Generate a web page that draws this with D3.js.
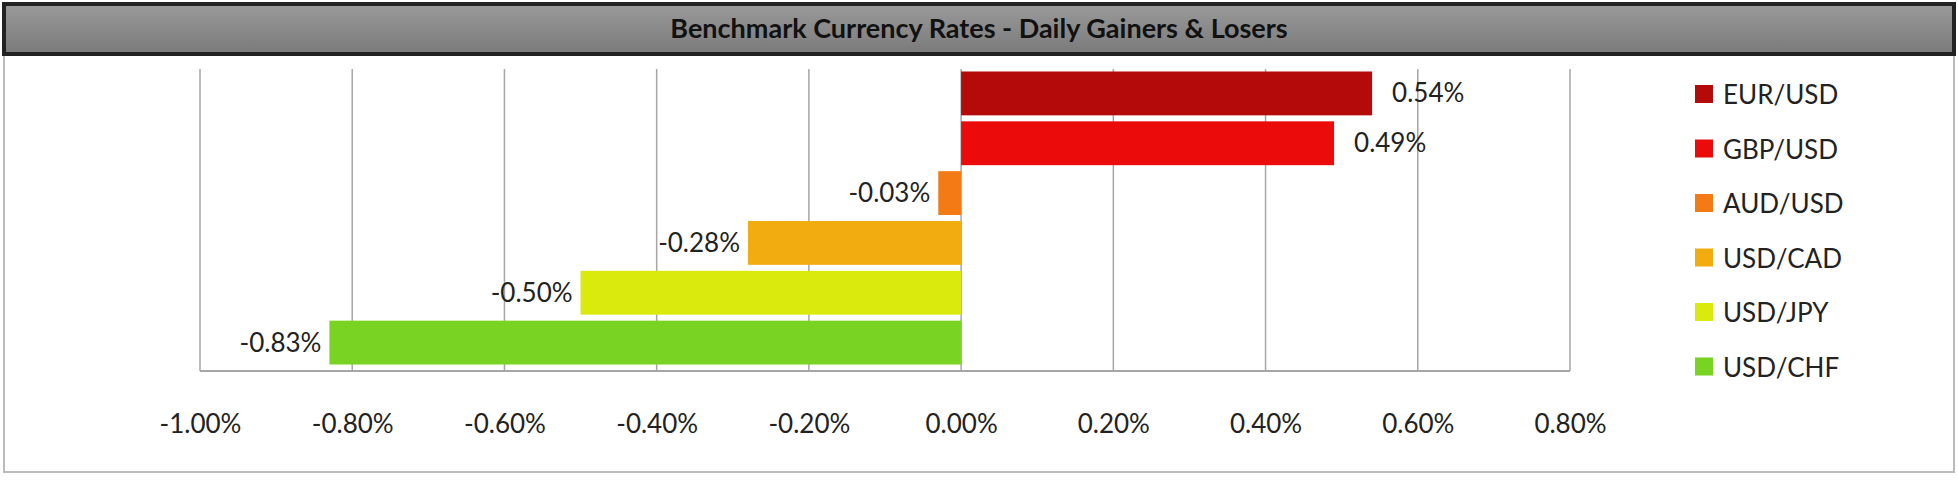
<!DOCTYPE html>
<html><head><meta charset="utf-8">
<script src="https://cdn.jsdelivr.net/npm/d3@7"></script>
<style>body{margin:0;background:#fff}svg{display:block;font-family:Lato,"Open Sans",sans-serif}</style>
</head><body><svg id="chart" width="1958" height="480"></svg>
<script>
const pairs = ['EUR/USD', 'GBP/USD', 'AUD/USD', 'USD/CAD', 'USD/JPY', 'USD/CHF'];
const changes = [0.54, 0.49, -0.03, -0.28, -0.50, -0.83];
const colors = ['#b50a0a', '#ec0b0b', '#f37a14', '#f3ac10', '#d9ea0c', '#79d322'];
const ticks = [-1.0, -0.8, -0.6, -0.4, -0.2, 0, 0.2, 0.4, 0.6, 0.8];

const svg = d3.select('#chart');
const fmt = v => v.toFixed(2) + '%';

// outer frame
svg.append('rect').attr('x', 4).attr('y', 4).attr('width', 1950).attr('height', 468)
   .attr('fill', '#fff').attr('stroke', '#bbb').attr('stroke-width', 2);

// title bar
const grad = svg.append('defs').append('linearGradient').attr('id', 'tg').attr('x1', 0).attr('x2', 0).attr('y1', 0).attr('y2', 1);
grad.append('stop').attr('offset', 0).attr('stop-color', '#9a9a9a');
grad.append('stop').attr('offset', 1).attr('stop-color', '#7a7a7a');
svg.append('rect').attr('x', 4).attr('y', 4).attr('width', 1950).attr('height', 50)
   .attr('fill', 'url(#tg)').attr('stroke', '#222').attr('stroke-width', 4);
svg.append('text').attr('x', 979).attr('y', 38).attr('text-anchor', 'middle')
   .attr('font-size', 27).attr('font-weight', 'bold').attr('fill', '#111')
   .text('Benchmark Currency Rates - Daily Gainers & Losers');

const x = d3.scaleLinear().domain([-1.0, 0.8]).range([200, 1570]);
const y = d3.scaleBand().domain(pairs).range([69, 367]).paddingInner(0.12).paddingOuter(0.05);

// gridlines
svg.append('g').selectAll('line').data(ticks).join('line')
   .attr('x1', d => x(d)).attr('x2', d => x(d)).attr('y1', 69).attr('y2', 371)
   .attr('stroke', '#a6a6a6').attr('stroke-width', 1.5);
svg.append('line').attr('x1', x(-1)).attr('x2', x(0.8)).attr('y1', 371).attr('y2', 371)
   .attr('stroke', '#a6a6a6').attr('stroke-width', 2);

// bars
svg.append('g').selectAll('rect').data(pairs).join('rect')
   .attr('x', (d, i) => x(Math.min(0, changes[i])))
   .attr('width', (d, i) => Math.abs(x(changes[i]) - x(0)))
   .attr('y', d => y(d)).attr('height', y.bandwidth())
   .attr('fill', (d, i) => colors[i]);

// value labels
svg.append('g').selectAll('text').data(pairs).join('text')
   .attr('x', (d, i) => changes[i] >= 0 ? x(changes[i]) + 20 : x(changes[i]) - 8)
   .attr('y', d => y(d) + y.bandwidth() / 2 + 9)
   .attr('text-anchor', (d, i) => changes[i] >= 0 ? 'start' : 'end')
   .attr('font-size', 26).attr('fill', '#222')
   .text((d, i) => fmt(changes[i]));

// axis labels
const axis = svg.append('g').attr('transform', 'translate(0,412)')
   .call(d3.axisBottom(x).tickValues(ticks).tickFormat(fmt).tickSize(0));
axis.select('.domain').remove();
axis.selectAll('text').attr('font-size', 26).attr('fill', '#222').attr('font-family', 'Lato, sans-serif');

// legend
const lg = svg.append('g').selectAll('g').data(pairs).join('g')
   .attr('transform', (d, i) => `translate(1695,${94 + i * 54.5})`);
lg.append('rect').attr('x', 0).attr('y', -9).attr('width', 18).attr('height', 18)
   .attr('fill', (d, i) => colors[i]);
lg.append('text').attr('x', 28).attr('y', 10).attr('font-size', 26).attr('fill', '#222').text(d => d);
</script></body></html>
